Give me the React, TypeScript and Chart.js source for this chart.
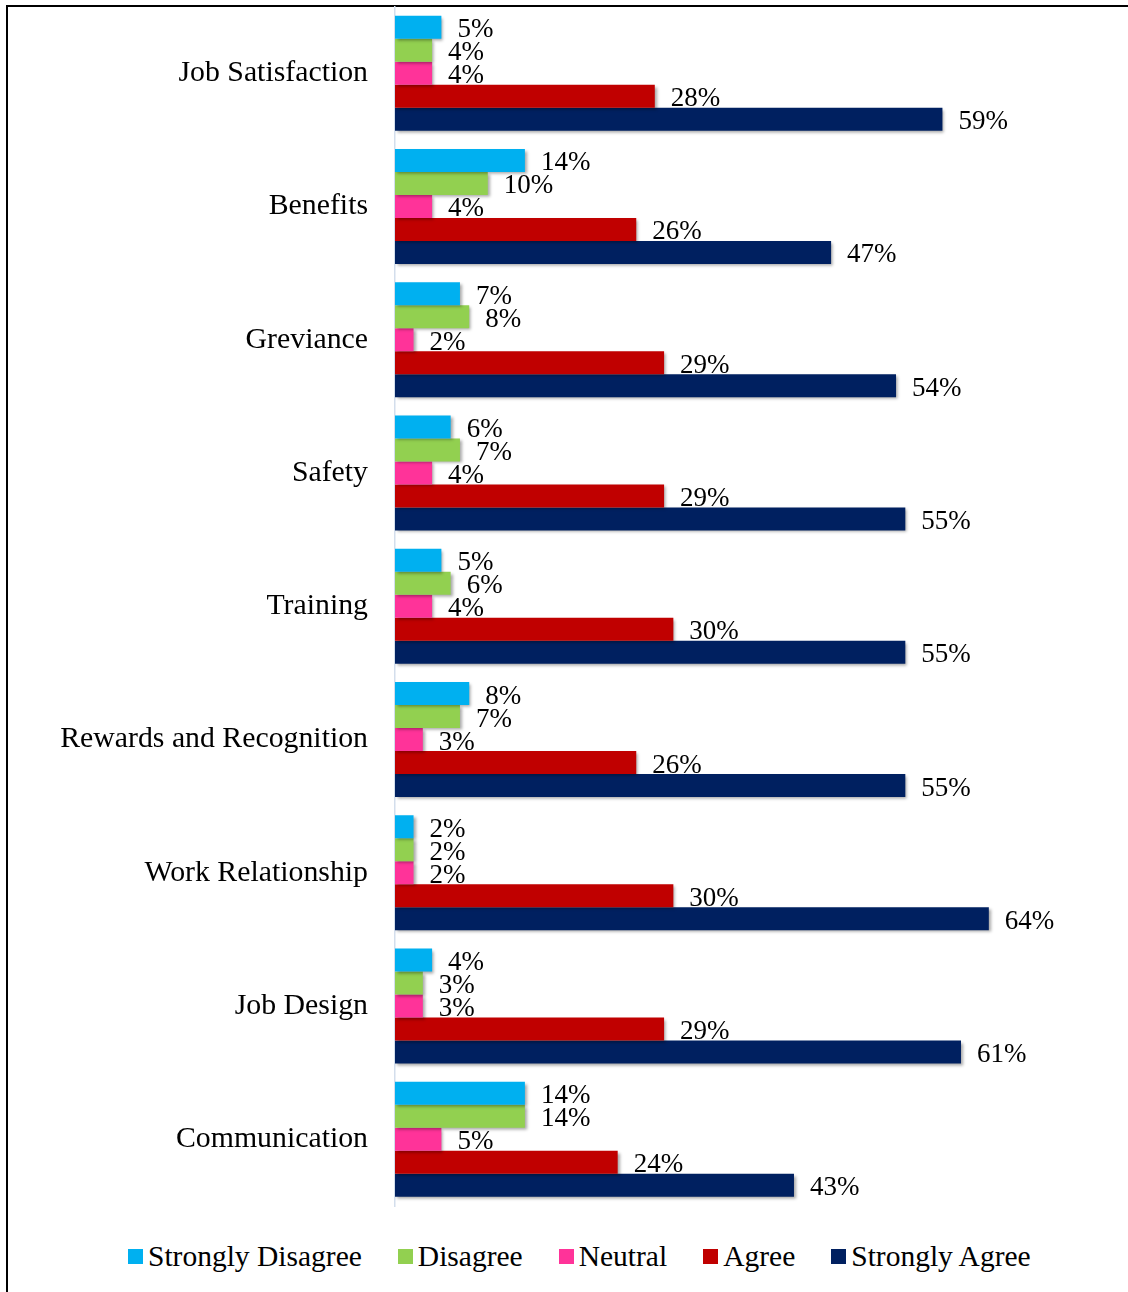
import React, { useEffect, useRef } from "react";
import { Chart, registerables } from "chart.js";

Chart.register(...registerables);

const categories = [
  "Job Satisfaction",
  "Benefits",
  "Greviance",
  "Safety",
  "Training",
  "Rewards and Recognition",
  "Work Relationship",
  "Job Design",
  "Communication",
];
const stronglyDisagree = [5, 14, 7, 6, 5, 8, 2, 4, 14];
const disagree = [4, 10, 8, 7, 6, 7, 2, 3, 14];
const neutral = [4, 4, 2, 4, 4, 3, 2, 3, 5];
const agree = [28, 26, 29, 29, 30, 26, 30, 29, 24];
const stronglyAgree = [59, 47, 54, 55, 55, 55, 64, 61, 43];

const seriesNames = ["Strongly Disagree", "Disagree", "Neutral", "Agree", "Strongly Agree"];
const seriesColors = ["#00B0F0", "#92D050", "#FF3399", "#C00000", "#002060"];
const seriesValues = [stronglyDisagree, disagree, neutral, agree, stronglyAgree];

const FONT = '"Liberation Serif", "Times New Roman", serif';

const shadowAndLabels = {
  id: "shadowAndLabels",
  beforeDatasetsDraw(chart: any) {
    const ctx = chart.ctx;
    ctx.save();
    ctx.shadowColor = "rgba(0,0,0,0.35)";
    ctx.shadowBlur = 3;
    ctx.shadowOffsetX = 2;
    ctx.shadowOffsetY = 2;
  },
  afterDatasetsDraw(chart: any) {
    const ctx = chart.ctx;
    ctx.restore();
    ctx.save();
    ctx.font = `27px ${FONT}`;
    ctx.fillStyle = "#000";
    ctx.textAlign = "left";
    ctx.textBaseline = "alphabetic";
    chart.data.datasets.forEach((ds: any, i: number) => {
      const meta = chart.getDatasetMeta(i);
      meta.data.forEach((bar: any, j: number) => {
        ctx.fillText(ds.data[j] + "%", bar.x + 16, bar.y + 10);
      });
    });
    ctx.restore();
  },
};

export default function App() {
  const ref = useRef<HTMLCanvasElement | null>(null);

  useEffect(() => {
    if (!ref.current) return;
    const chart = new Chart(ref.current, {
      type: "bar",
      data: {
        labels: categories,
        datasets: seriesNames.map((name, i) => ({
          label: name,
          data: seriesValues[i],
          backgroundColor: seriesColors[i],
          borderWidth: 0,
          barPercentage: 1,
          categoryPercentage: 0.863,
        })),
      },
      options: {
        indexAxis: "y",
        animation: false,
        responsive: false,
        maintainAspectRatio: false,
        devicePixelRatio: 1,
        layout: { padding: { left: 0, top: 6.5, right: 83.5, bottom: 19 } },
        plugins: {
          legend: { display: false },
          tooltip: { enabled: false },
        },
        scales: {
          x: { display: false, min: 0, max: 70 },
          y: {
            afterFit: (scale: any) => {
              scale.width = 395;
              scale.paddingTop = 0;
              scale.paddingBottom = 0;
            },
            grid: { display: false, drawTicks: false },
            border: { display: true, color: "#d3deec", width: 1.5 },
            ticks: {
              padding: 27,
              color: "#000",
              font: { family: FONT, size: 29.8 },
            },
          },
        },
      },
      plugins: [shadowAndLabels],
    });
    return () => chart.destroy();
  }, []);

  return (
    <div
      style={{
        position: "absolute",
        left: 0,
        top: 0,
        width: 1128,
        height: 1292,
        overflow: "hidden",
        background: "#fff",
      }}
    >
      <div
        style={{
          position: "absolute",
          left: 6,
          top: 5,
          width: 2000,
          height: 2000,
          borderTop: "2px solid #000",
          borderLeft: "2px solid #000",
        }}
      />
      <canvas
        ref={ref}
        width={1128}
        height={1225}
        style={{ position: "absolute", left: 0, top: 0, width: 1128, height: 1225 }}
      />
      <div
        style={{
          position: "absolute",
          left: 128,
          top: 1242,
          display: "flex",
          alignItems: "center",
          fontFamily: FONT,
          fontSize: 29.5,
          lineHeight: "29px",
          color: "#000",
          whiteSpace: "nowrap",
        }}
      >
        {seriesNames.map((name, i) => (
          <div
            key={name}
            style={{ display: "flex", alignItems: "center", marginRight: i < seriesNames.length - 1 ? 36 : 0 }}
          >
            <span
              style={{ display: "inline-block", width: 15, height: 15, background: seriesColors[i], marginRight: 5 }}
            />
            <span>{name}</span>
          </div>
        ))}
      </div>
    </div>
  );
}
